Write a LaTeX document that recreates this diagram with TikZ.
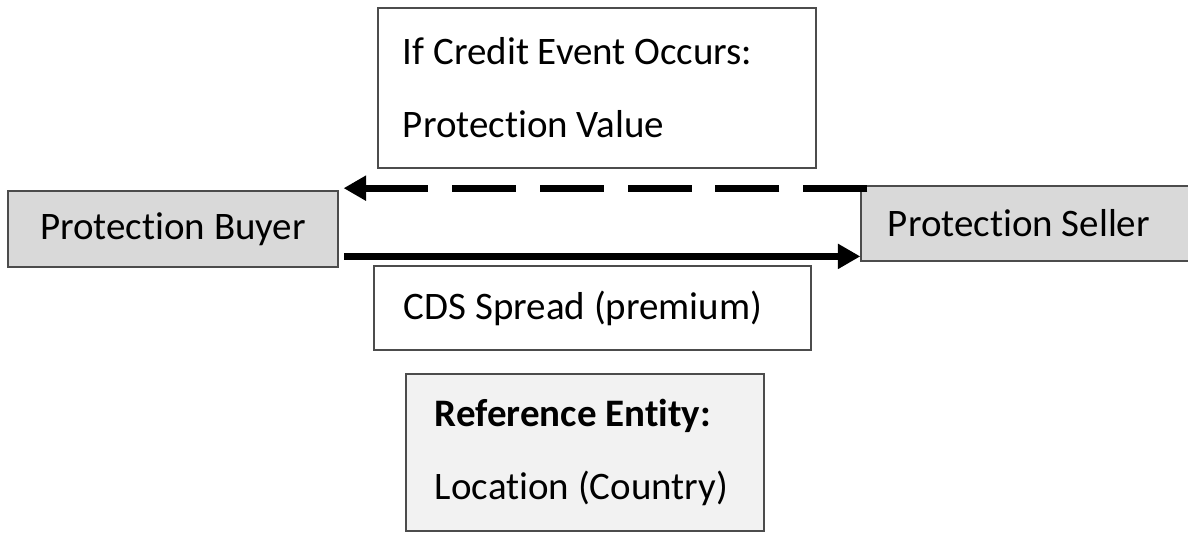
\documentclass[tikz,border=0pt]{standalone}
\usepackage{fontspec}
\setmainfont{Carlito}[RawFeature={-liga;-clig;-dlig;-calt}]
\usetikzlibrary{arrows.meta}
\newcommand{\tisep}{t\kern0pt i}
\tikzset{party/.style={draw=black!70, line width=0.9pt, fill=black!15, inner sep=0pt, minimum height=1.9cm}}
\tikzset{infobox/.style={draw=black!70, line width=0.9pt, fill=white, inner sep=0pt, align=flush left}}
\tikzset{flow/.style={line width=5pt, -{Triangle[length=16pt,width=17pt]}}}

\begin{document}
\begin{tikzpicture}[x=0.025cm, y=-0.025cm, font=\fontsize{27.7}{51.9}\selectfont]
    \useasboundingbox (0,0) rectangle (1188,532);
    % the two parties
    \node[party, minimum width=8.25cm] (buyer) at (173,229) {Protec\tisep on Buyer};
    \node[party, minimum width=8.275cm, minimum height=1.875cm, text width=6.925cm, align=flush left, inner xsep=0.675cm] (seller) at (1026.5,223.5) {Protec\tisep on Seller};
    % payments
    \node[infobox, minimum width=10.95cm, minimum height=4cm, text width=9.7cm] (payout) at (597,88) {If Credit Event Occurs:\\Protec\tisep on Value};
    \node[infobox, minimum width=10.925cm, minimum height=2.1cm, text width=9.425cm] (premium) at (592.5,308) {CDS Spread (premium)};
    \node[infobox, fill=black!5, minimum width=8.95cm, minimum height=3.925cm, text width=7.5cm] (entity) at (585,452.5) {\textbf{Reference En\tisep ty:}\\Loca\tisep on (Country)};
    \coordinate (dstart) at ([xshift=5pt,yshift=-2pt]seller.north west);
    \coordinate (sstart) at ([xshift=4pt,yshift=8pt]buyer.south east);
    \draw[flow, dash pattern=on 45.5pt off 17pt, shorten >=3.5pt] (dstart) -- (dstart -| buyer.east);
    \draw[flow] (sstart) -- (sstart -| seller.west);
\end{tikzpicture}
\end{document}
